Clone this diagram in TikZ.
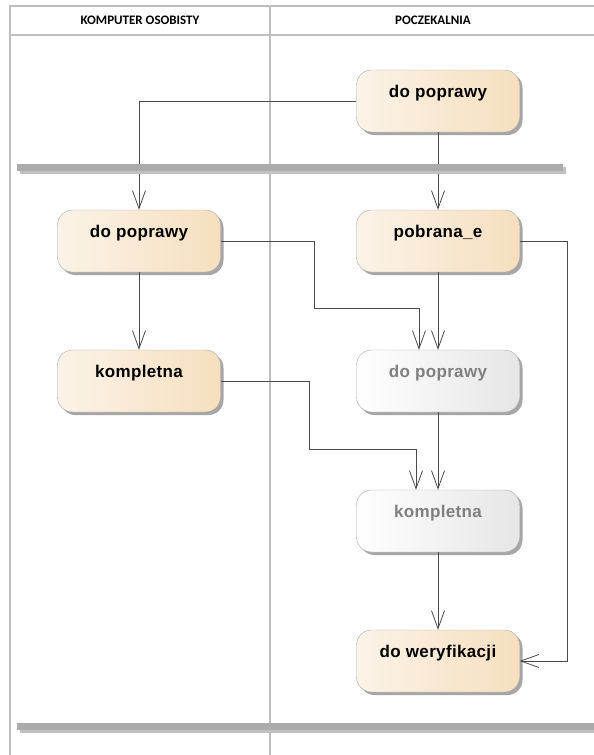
\documentclass[tikz,border=0pt]{standalone}
\usepackage{fontspec}
\setmainfont{Liberation Sans}
\newfontfamily\naglowekfont{Carlito}
\newfontfamily\akcjafont{Liberation Sans}[LetterSpace=2]
\usetikzlibrary{arrows.meta,shadows}

\definecolor{liniatoru}{HTML}{BEBEBE}
\definecolor{kremjasny}{HTML}{FBF3E8}
\definecolor{kremciemny}{HTML}{F6DFBE}
\definecolor{szaryciemny}{HTML}{E6E6E6}
\definecolor{ramka}{HTML}{A8A8A8}
\definecolor{cien}{HTML}{A6A6A6}
\definecolor{przejscia}{HTML}{4A4A4A}
\definecolor{tekstduch}{HTML}{7F7F7F}
\definecolor{belkakolor}{HTML}{ABABAB}

\tikzset{
  akcja/.style={draw=ramka, rounded corners=15pt,
    minimum width=163pt, minimum height=62pt,
    left color=kremjasny, right color=kremciemny,
    drop shadow={shadow xshift=3pt, shadow yshift=-3pt, fill=cien, opacity=1},
    text height=13pt, text depth=20pt,
    font=\akcjafont\bfseries\fontsize{17}{20}\selectfont},
  duch/.style={akcja, left color=white, right color=szaryciemny, text=tekstduch},
  naglowek/.style={font=\naglowekfont\bfseries\fontsize{13}{15}\selectfont},
  tor/.style={draw=liniatoru, line width=2.5pt},
  przejscie/.style={draw=przejscia, line width=0.8pt,
    -{Straight Barb[length=18pt,width=13pt]}},
}

\begin{document}
\begin{tikzpicture}[x=1pt,y=-1pt]
  \useasboundingbox (0,0) rectangle (594,755);

  % Tory
  \draw[tor] (594,6) -- (10,6) -- (10,755);
  \draw[tor] (10,35) -- (594,35);
  \draw[tor] (270,6) -- (270,755);
  \node[naglowek] (torA) at (140,20) {KOMPUTER OSOBISTY};
  \node[naglowek] (torB) at (433,20) {POCZEKALNIA};

  % Akcje
  \node[akcja] (popr0) at (438,101) {do poprawy};
  \node[akcja] (popr1) at (139,241) {do poprawy};
  \node[akcja] (pobr) at (438,241) {pobrana\_e};
  \node[akcja] (kompl1) at (139,381) {kompletna};
  \node[duch] (popr2) at (438,381) {do poprawy};
  \node[duch] (kompl2) at (438,521) {kompletna};
  \node[akcja] (weryf) at (438,661) {do weryfikacji};

  % Przejscia
  \draw[przejscie] (popr0.west) -| (popr1.north);
  \draw[przejscie] (popr0) -- (pobr);
  \draw[przejscie] (popr1) -- (kompl1);
  \draw[przejscie] (popr1.east) -| (314,308) -| ([xshift=-19pt]popr2.north);
  \draw[przejscie] (pobr) -- (popr2);
  \draw[przejscie] (kompl1.east) -| (309,449) -| ([xshift=-22pt]kompl2.north);
  \draw[przejscie] (popr2) -- (kompl2);
  \draw[przejscie] (kompl2) -- (weryf);
  \draw[przejscie] (pobr.east) -- ++(48,0) |- (weryf.east);

  % Belki
  \fill[cien!70] (20,167) rectangle (566,174);
  \fill[belkakolor] (17,164) rectangle (563,171);
  \fill[cien!70] (20,726) rectangle (594,733);
  \fill[belkakolor] (17,723) rectangle (594,730);
\end{tikzpicture}
\end{document}
